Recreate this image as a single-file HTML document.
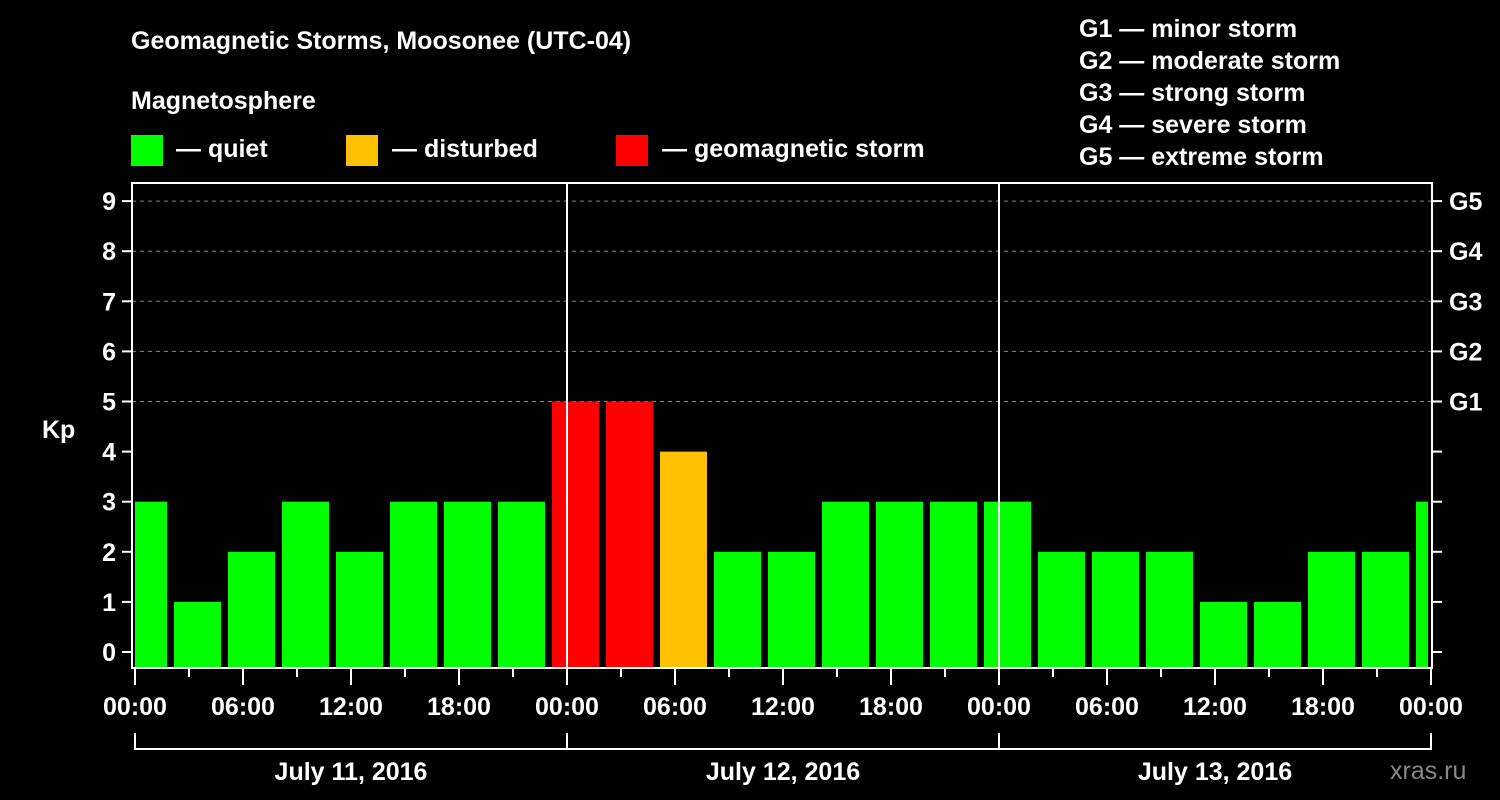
<!DOCTYPE html>
<html><head><meta charset="utf-8"><style>
html,body{margin:0;padding:0;background:#000;}
svg{display:block;font-family:"Liberation Sans",Arial,sans-serif;font-weight:bold;}
</style></head><body>
<svg id="chart" width="1500" height="800" viewBox="0 0 1500 800">
<text x="131" y="49" fill="#fff" font-size="25">Geomagnetic Storms, Moosonee (UTC-04)</text>
<text x="131" y="109" fill="#fff" font-size="25">Magnetosphere</text>
<g>
<rect x="131" y="135" width="32" height="31" fill="#00ff00"/>
<text x="176" y="157" fill="#fff" font-size="25">— quiet</text>
<rect x="346" y="135" width="32" height="31" fill="#ffc000"/>
<text x="392" y="157" fill="#fff" font-size="25">— disturbed</text>
<rect x="616" y="135" width="32" height="31" fill="#ff0000"/>
<text x="662" y="157" fill="#fff" font-size="25">— geomagnetic storm</text>
</g>
<g fill="#fff" font-size="25">
<text x="1079" y="37">G1 — minor storm</text>
<text x="1079" y="69">G2 — moderate storm</text>
<text x="1079" y="101">G3 — strong storm</text>
<text x="1079" y="133">G4 — severe storm</text>
<text x="1079" y="165">G5 — extreme storm</text>
</g>
<text x="42" y="438" fill="#fff" font-size="25">Kp</text>
<text x="1390" y="779" fill="#888" font-size="25" font-weight="normal">xras.ru</text>
<g id="grid"></g><g id="bars"></g><g id="axes"></g>
</svg>
<script>
const startHours = [-1,2,5,8,11,14,17,20,23,26,29,32,35,38,41,44,47,50,53,56,59,62,65,68,71];
const kpValues = [3,1,2,3,2,3,3,3,5,5,4,2,2,3,3,3,3,2,2,2,1,1,2,2,3];
const yTicks = [0,1,2,3,4,5,6,7,8,9];
const gLabels = ["G1","G2","G3","G4","G5"];
const xLabels = ["00:00","06:00","12:00","18:00","00:00","06:00","12:00","18:00","00:00","06:00","12:00","18:00","00:00"];
const dayLabels = ["July 11, 2016","July 12, 2016","July 13, 2016"];
const NS="http://www.w3.org/2000/svg";
const L=132,R=1432,T=183,B=668;
const xs=h=>135+h*18;
const ys=v=>652-v*50.1;
function mk(tag,attrs,parent){const e=document.createElementNS(NS,tag);for(const k in attrs)e.setAttribute(k,attrs[k]);parent.appendChild(e);return e;}
const grid=document.getElementById('grid'),bars=document.getElementById('bars'),axes=document.getElementById('axes');
for(let v=5;v<=9;v++){const l=mk('line',{x1:L,x2:R,y1:ys(v),y2:ys(v),stroke:'#888','stroke-dasharray':'4,4','stroke-width':1},grid);

}
startHours.forEach((h,i)=>{const v=kpValues[i];
let x1=Math.max(xs(h)+3,135),x2=Math.min(xs(h+3)-4,1428);
const col=v>=5?'#ff0000':(v>=4?'#ffc000':'#00ff00');
const r=mk('rect',{x:x1,y:ys(v),width:x2-x1,height:B-ys(v),fill:col},bars);

});
[24,48].forEach(h=>{const l=mk('line',{x1:xs(h),x2:xs(h),y1:T,y2:B,stroke:'#fff','stroke-width':2},axes);

});
const fr=mk('rect',{x:L,y:T,width:R-L,height:B-T,fill:'none',stroke:'#fff','stroke-width':2},axes);


yTicks.forEach(v=>{const y=ys(v);
mk('line',{x1:L-10,x2:L,y1:y,y2:y,stroke:'#fff','stroke-width':2},axes);
mk('line',{x1:R,x2:R+10,y1:y,y2:y,stroke:'#fff','stroke-width':2},axes);
const t=mk('text',{x:L-16,y:y+9,fill:'#fff','font-size':25,'text-anchor':'end'},axes);t.textContent=v;

});
gLabels.forEach((g,i)=>{const t=mk('text',{x:R+17,y:ys(5+i)+9,fill:'#fff','font-size':25},axes);t.textContent=g;

});
for(let h=0;h<=72;h+=3){const major=h%6===0;
mk('line',{x1:xs(h),x2:xs(h),y1:B,y2:B+(major?17:9),stroke:'#fff','stroke-width':2},axes);}
xLabels.forEach((s,i)=>{const t=mk('text',{x:xs(i*6),y:715,fill:'#fff','font-size':25,'text-anchor':'middle'},axes);t.textContent=s;

});
mk('polyline',{points:`${xs(0)},733 ${xs(0)},749 ${xs(72)},749 ${xs(72)},733`,fill:'none',stroke:'#fff','stroke-width':2},axes);
[24,48].forEach(h=>mk('line',{x1:xs(h),x2:xs(h),y1:733,y2:749,stroke:'#fff','stroke-width':2},axes));
dayLabels.forEach((s,i)=>{const t=mk('text',{x:xs(i*24+12),y:780,fill:'#fff','font-size':25,'text-anchor':'middle'},axes);t.textContent=s;

});
</script>
</body></html>
